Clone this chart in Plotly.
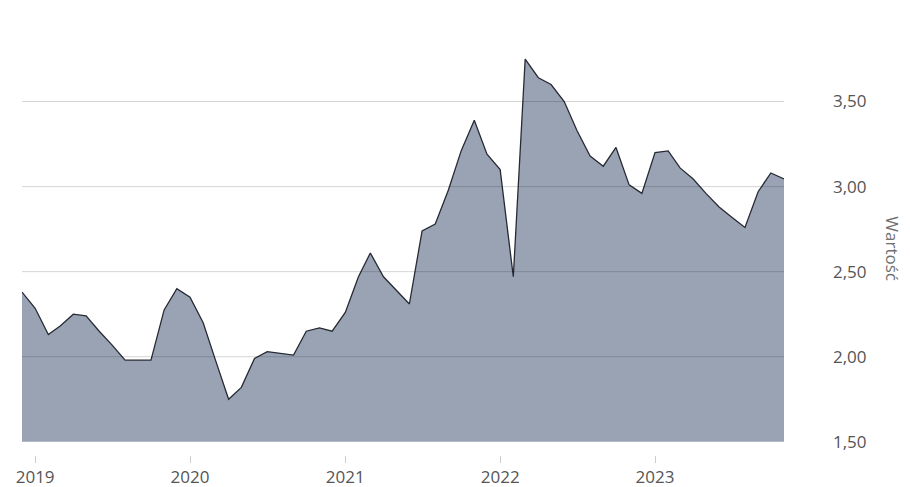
import plotly.graph_objects as go
import pandas as pd

dates = pd.date_range("2018-12-01", periods=60, freq="MS")
values = [
    2.38,
    2.285, 2.13, 2.18, 2.25, 2.24, 2.15, 2.07, 1.98, 1.98, 1.98, 2.275, 2.40,
    2.35, 2.20, 1.98, 1.75, 1.82, 1.99, 2.03, 2.02, 2.01, 2.15, 2.17, 2.15,
    2.26, 2.47, 2.61, 2.47, 2.39, 2.31, 2.74, 2.78, 2.98, 3.21, 3.39, 3.19,
    3.10, 2.47, 3.75, 3.64, 3.60, 3.50, 3.33, 3.18, 3.12, 3.23, 3.01, 2.96,
    3.20, 3.21, 3.11, 3.045, 2.96, 2.88, 2.82, 2.76, 2.97, 3.08, 3.045,
]
year_ticks = ["2019-01-01", "2020-01-01", "2021-01-01", "2022-01-01", "2023-01-01"]
year_labels = ["2019", "2020", "2021", "2022", "2023"]
y_ticks = [1.5, 2.0, 2.5, 3.0, 3.5]
grid_vals = [2.0, 2.5, 3.0, 3.5]
y_title = "Wartość"

fig = go.Figure()
fig.add_trace(go.Scatter(
    x=dates, y=values, mode="lines",
    line=dict(color="#262a33", width=1.3),
    fill="tozeroy", fillcolor="#9aa3b4",
    hoverinfo="skip",
))

for g in grid_vals:
    fig.add_shape(type="line", xref="paper", x0=0, x1=1, yref="y", y0=g, y1=g,
                  line=dict(color="rgba(0,0,0,0.17)", width=1), layer="above")

fig.add_annotation(text=y_title, xref="paper", yref="paper", x=1.142, y=0.5,
                   xanchor="center", yanchor="middle",
                   showarrow=False, textangle=90,
                   font=dict(family="Open Sans", size=17, color="#707070"))

fig.update_layout(
    width=910, height=487,
    margin=dict(l=22, r=126, t=42, b=32),
    paper_bgcolor="white", plot_bgcolor="white",
    separators=", ",
    showlegend=False,
    font=dict(family="Open Sans", size=17, color="#555555"),
    xaxis=dict(
        range=[dates[0], dates[-1]],
        tickvals=year_ticks, ticktext=year_labels,
        showgrid=False, zeroline=False, showline=False,
        ticks="outside", ticklen=7, tickcolor="#cccccc", tickwidth=1,
        anchor="free", position=0, automargin=False,
        tickfont=dict(size=17, color="#555555"),
    ),
    yaxis=dict(
        domain=[0.032, 1],
        range=[1.5, 3.85],
        side="right", automargin=False,
        tickvals=y_ticks, tickformat=".2f",
        showgrid=False, zeroline=False, showline=False,
        ticks="", ticklabelstandoff=48,
        tickfont=dict(size=17, color="#555555"),
    ),
)

fig.write_html("out.html", config={"displayModeBar": False},
               post_script="document.body.style.margin='0';document.body.style.overflow='hidden';")
